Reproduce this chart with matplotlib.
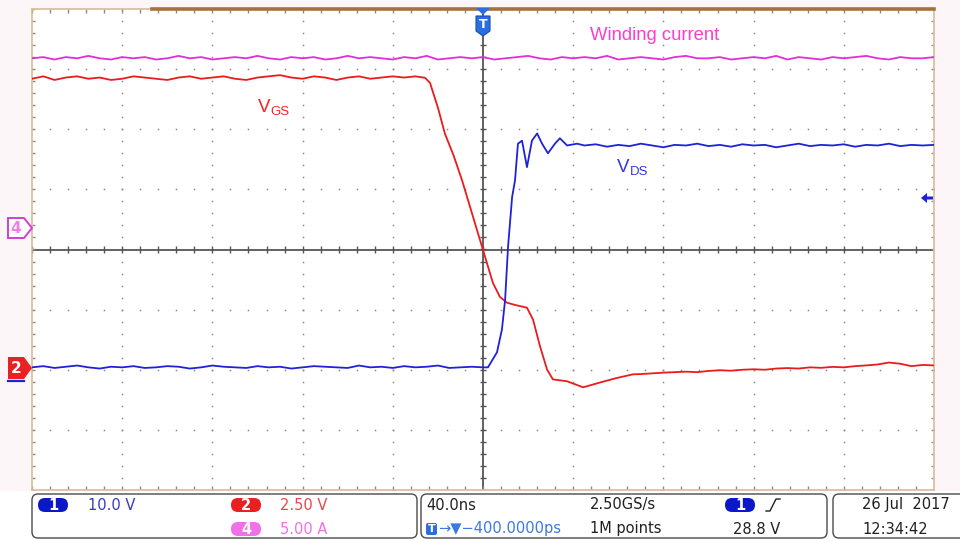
import matplotlib
matplotlib.use('Agg')
import matplotlib.pyplot as plt
from matplotlib.patches import Polygon, FancyBboxPatch
import numpy as np

# scope settings: time/div and per-channel scale + ground position (divisions)
ns_per_div = 40.0
ch1_scale, ch1_off = 10.0, -1.96   # V_DS   (V/div)
ch2_scale, ch2_off = 2.5, -1.96    # V_GS   (V/div)
ch4_scale, ch4_off = 5.0, 0.36     # winding current (A/div)

# winding current (A), every 5 ns from -200 ns to 200 ns
i_wind = [14.1, 14.2, 14.0, 14.2, 14.1, 14.3, 14.1, 14.0, 14.2, 14.1,
          14.2, 14.0, 14.1, 14.3, 14.1, 14.2, 14.0, 14.1, 14.2, 14.1,
          14.3, 14.1, 14.0, 14.2, 14.1, 14.2, 14.0, 14.1, 14.3, 14.1,
          14.2, 14.1, 14.0, 14.2, 14.1, 14.3, 14.0, 14.1, 14.2, 14.1,
          14.2, 14.0, 14.1, 14.2, 14.3, 14.1, 14.0, 14.2, 14.1, 14.2,
          14.1, 14.3, 14.0, 14.1, 14.2, 14.1, 14.0, 14.2, 14.3, 14.1,
          14.1, 14.2, 14.0, 14.1, 14.2, 14.1, 14.3, 14.0, 14.2, 14.1,
          14.0, 14.2, 14.1, 14.2, 14.3, 14.1, 14.0, 14.2, 14.1, 14.1,
          14.2]

# V_GS (V): flat part every 5 ns from -200 to -30 ns
vgs_pre = [12.0, 12.1, 11.95, 12.05, 12.1, 12.0, 12.05, 11.95, 12.0, 12.1,
           12.05, 12.0, 11.95, 12.05, 12.1, 12.0, 12.05, 12.1, 12.0, 11.95,
           12.05, 12.1, 12.15, 12.05, 12.0, 12.1, 12.05, 11.95, 12.05, 12.1,
           12.0, 12.05, 12.1, 12.05, 12.1]
# V_GS turn-off edge (ns, V)
vgs_edge_t = [-25.7, -23.5, -20.0, -16.9, -13.0, -9.3, -4.9, 0.0, 4.4, 7.5,
              10.6, 14.0, 19.5, 22.2, 25.3, 28.4, 31.0, 37.3, 44.4, 51.9,
              59.0, 66.5]
vgs_edge_v = [12.04, 11.83, 10.8, 9.72, 8.8, 7.78, 6.41, 4.88, 3.51, 2.93,
              2.69, 2.6, 2.48, 1.98, 0.87, -0.09, -0.50, -0.58, -0.83, -0.63,
              -0.45, -0.29]
# V_GS tail every 5 ns from 70 to 200 ns
vgs_tail = [-0.28, -0.25, -0.22, -0.2, -0.18, -0.2, -0.15, -0.12, -0.14, -0.1,
            -0.08, -0.1, -0.05, -0.03, -0.05, 0.0, -0.02, 0.02, 0.0, 0.05,
            0.08, 0.12, 0.2, 0.15, 0.05, 0.1, 0.08]

# V_DS (V): flat part every 5 ns from -200 to 0 ns
vds_pre = [0.0, 0.2, -0.1, 0.1, 0.3, 0.0, -0.2, 0.1, 0.0, 0.2,
           -0.1, 0.0, 0.2, 0.1, -0.2, 0.0, 0.3, 0.1, 0.0, -0.1,
           0.2, 0.0, 0.1, -0.2, 0.0, 0.2, 0.1, 0.0, -0.1, 0.3,
           0.0, 0.1, -0.1, 0.2, 0.0, 0.1, 0.3, -0.1, 0.0, 0.1,
           0.0]
# V_DS rise + ringing (ns, V)
vds_edge_t = [2.2, 6.2, 8.4, 9.8, 11.1, 12.9, 14.2, 15.5, 17.3, 19.5,
              21.7, 24.0, 26.2, 28.8, 31.9, 34.1, 37.3, 41.7]
vds_edge_v = [0.0, 2.5, 6.3, 11.2, 20.0, 28.3, 31.1, 37.2, 37.7, 33.3,
              37.7, 38.9, 37.2, 35.6, 37.2, 38.1, 36.9, 37.2]
# V_DS after turn-off every 5 ns from 45 to 200 ns
vds_post = [36.9, 37.1, 36.7, 37.0, 36.8, 37.2, 36.9, 36.6, 37.0, 36.9,
            37.2, 36.8, 37.0, 36.7, 37.1, 36.9, 37.0, 36.6, 36.9, 37.2,
            36.8, 37.0, 36.9, 37.1, 36.7, 37.0, 36.9, 37.2, 36.8, 37.0,
            36.9, 37.0]

# readout texts
ch_scales = ['10.0 V', '2.50 V', '5.00 A']
timebase = '40.0ns'
trig_pos = '\u2192\u25bc\u2212400.0000ps'
sample_rate = '2.50GS/s'
rec_len = '1M points'
trig_level = '28.8 V'
date_txt = '26 Jul  2017'
time_txt = '12:34:42'

BLUE = '#1f22d6'
RED = '#ec1b1b'
PINK = '#e02fd6'

# assemble traces (time in ns)
t_wind = np.linspace(-200, 200, len(i_wind))
t_gs = np.concatenate([np.linspace(-200, -30, len(vgs_pre)), vgs_edge_t,
                       np.linspace(70, 200, len(vgs_tail))])
v_gs = np.concatenate([vgs_pre, vgs_edge_v, vgs_tail])
t_ds = np.concatenate([np.linspace(-200, 0, len(vds_pre)), vds_edge_t,
                       np.linspace(45, 200, len(vds_post))])
v_ds = np.concatenate([vds_pre, vds_edge_v, vds_post])

fig = plt.figure(figsize=(9.6, 5.39), dpi=100, facecolor='#fdf6f8')
ax = fig.add_axes([32 / 960, (539 - 490) / 539, 902 / 960, 481 / 539])
ax.set_xlim(-5, 5)
ax.set_ylim(-4, 4)
ax.set_facecolor('white')
ax.set_xticks([])
ax.set_yticks([])
for s in ax.spines.values():
    s.set_color('#d8bc98')
    s.set_linewidth(1.2)

# dotted graticule
fine_x = np.arange(-5, 5.001, 0.2)
fine_y = np.arange(-4, 4.001, 0.2)
for gx in range(-4, 5):
    if gx != 0:
        ax.plot(np.full_like(fine_y, gx), fine_y, ls='none', marker='s', ms=1.1,
                color='#8a8a8a', mew=0)
for gy in range(-3, 4):
    if gy != 0:
        ax.plot(fine_x, np.full_like(fine_x, gy), ls='none', marker='s', ms=1.1,
                color='#8a8a8a', mew=0)

# centre cross with ticks
ax.axhline(0, color='#555555', lw=1.3)
ax.axvline(0, color='#555555', lw=1.3)
ax.vlines(fine_x, -0.05, 0.05, color='#555555', lw=1)
ax.hlines(fine_y, -0.035, 0.035, color='#555555', lw=1)
# border ticks
ax.vlines(fine_x, 3.94, 4, color='#8a8a8a', lw=1)
ax.vlines(fine_x, -4, -3.94, color='#8a8a8a', lw=1)
ax.hlines(fine_y, -5, -4.965, color='#8a8a8a', lw=1)
ax.hlines(fine_y, 4.965, 5, color='#8a8a8a', lw=1)
ax.plot([-3.67, 5], [4, 4], color='#a8703a', lw=2.6, clip_on=False, zorder=6)

# traces
ax.plot(t_wind / ns_per_div, np.array(i_wind) / ch4_scale + ch4_off,
        color=PINK, lw=1.3, zorder=3)
ax.plot(t_gs / ns_per_div, v_gs / ch2_scale + ch2_off, color=RED, lw=1.3, zorder=4)
ax.plot(t_ds / ns_per_div, v_ds / ch1_scale + ch1_off, color=BLUE, lw=1.3, zorder=5)

# overlay in pixel coordinates for markers and readout
ov = fig.add_axes([0, 0, 1, 1], zorder=5)
ov.set_xlim(0, 960)
ov.set_ylim(539, 0)
ov.axis('off')

ov.text(258, 108, 'V', color='#ff2020', fontsize=13.5, family='Liberation Sans',
        ha='left', va='center')
ov.text(270, 112, 'GS', color='#ff2020', fontsize=9.5, family='Liberation Sans',
        ha='left', va='center')
ov.text(617, 168, 'V', color='#3038e0', fontsize=13.5, family='Liberation Sans',
        ha='left', va='center')
ov.text(630, 172, 'DS', color='#3038e0', fontsize=9.5, family='Liberation Sans',
        ha='left', va='center')
ov.text(590, 36, 'Winding current', color='#ff3ccf', fontsize=13.3,
        family='Liberation Sans', ha='left', va='center')

# channel ground markers
ov.add_patch(Polygon([(8, 218), (24, 218), (32, 228), (24, 238), (8, 238)],
                     closed=True, facecolor='white', edgecolor='#d040d0', lw=1.4))
ov.text(16, 228.5, '4', color='#f07ef0', fontsize=11, fontweight='bold',
        ha='center', va='center')
ov.plot([8, 24], [381, 381], color=BLUE, lw=1.6)
ov.add_patch(Polygon([(8, 357), (24, 357), (32, 368), (24, 379), (8, 379)],
                     closed=True, facecolor='#e82222', edgecolor='none'))
ov.text(16, 368.5, '2', color='white', fontsize=11, fontweight='bold',
        ha='center', va='center')

# trigger position marker and trigger level arrow
ov.add_patch(Polygon([(476, 8), (490, 8), (483, 15)], closed=True,
                     facecolor='#2a6ee0', edgecolor='none'))
ov.add_patch(Polygon([(476, 16), (490, 16), (490, 31), (483, 36), (476, 31)],
                     closed=True, facecolor='#2a6ee0', edgecolor='#1a4fb0', lw=0.8))
ov.text(483, 25, 'T', color='white', fontsize=9, fontweight='bold',
        ha='center', va='center')
ov.add_patch(Polygon([(921, 198), (927, 193), (927, 196.5), (933, 196.5),
                      (933, 199.5), (927, 199.5), (927, 203)], closed=True,
                     facecolor=BLUE, edgecolor='none'))

# readout bar
ov.add_patch(plt.Rectangle((0, 491), 960, 48, facecolor='white', edgecolor='none'))
for x0, w in [(32, 385), (421, 406), (833, 140)]:
    ov.add_patch(FancyBboxPatch((x0, 494), w, 44,
                                boxstyle='round,pad=0,rounding_size=6',
                                facecolor='white', edgecolor='#4a4a4a', lw=1))


def pill(x, y, label, color):
    ov.add_patch(FancyBboxPatch((x, y - 7), 30, 14,
                                boxstyle='round,pad=0,rounding_size=7',
                                facecolor=color, edgecolor='none'))
    ov.text(x + 15, y + 0.5, label, color='white', fontsize=10.5,
            fontweight='bold', ha='center', va='center')


r1, r2 = 505, 529
pill(38, r1, '1', '#0a18c8')
pill(231, r1, '2', '#e82020')
pill(231, r2, '4', '#f070e8')
fs = 10.5
ov.text(88, r1, ch_scales[0], color='#3838c8', fontsize=fs, va='center')
ov.text(280, r1, ch_scales[1], color='#e84848', fontsize=fs, va='center')
ov.text(280, r2, ch_scales[2], color='#f070e8', fontsize=fs, va='center')
ov.text(426, r1, timebase, color='#202020', fontsize=fs, va='center')
ov.add_patch(FancyBboxPatch((426, r2 - 6), 11, 12,
                            boxstyle='round,pad=0,rounding_size=2',
                            facecolor='#2a6ee0', edgecolor='none'))
ov.text(431.5, r2 + 0.5, 'T', color='white', fontsize=8, fontweight='bold',
        ha='center', va='center')
ov.text(438, r2, trig_pos, color='#3a78e4', fontsize=fs, va='center')
ov.text(590, r1, sample_rate, color='#202020', fontsize=fs, va='center')
ov.text(590, r2, rec_len, color='#202020', fontsize=fs, va='center')
pill(725, r1, '1', '#0a18c8')
ov.plot([766, 770, 776, 780], [511, 511, 499, 499], color='#202020', lw=1)
ov.text(733, r2, trig_level, color='#202020', fontsize=fs, va='center')
ov.text(862, r1, date_txt, color='#202020', fontsize=fs, va='center')
ov.text(862, r2, time_txt, color='#202020', fontsize=fs, va='center')

fig.savefig('out.png', dpi=100, facecolor=fig.get_facecolor())
